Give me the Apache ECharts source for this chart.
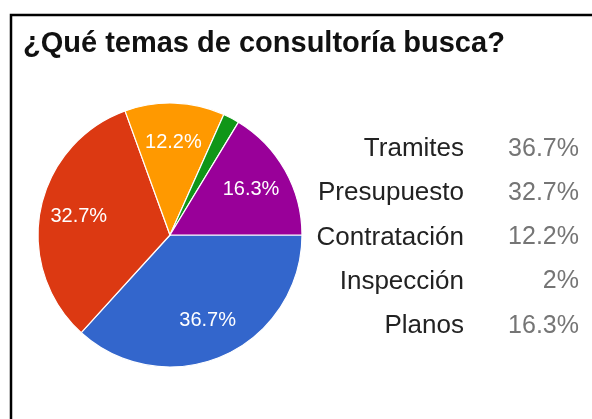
<!DOCTYPE html>
<html lang="es">
<head>
    <meta charset="UTF-8">
    <title>¿Qué temas de consultoría busca?</title>
    <style>
        html, body { margin: 0; padding: 0; background: #fff; }
        #main { width: 592px; height: 419px; }
    </style>
</head>
<body>
    <div id="main"></div>
    <script src="https://cdn.jsdelivr.net/npm/echarts@6/dist/echarts.min.js"></script>
    <script>
    // datos
    var temas = ['Tramites', 'Presupuesto', 'Contratación', 'Inspección', 'Planos'];
    var porcentajes = [36.7, 32.7, 12.2, 2, 16.3];
    var colores = ['#3366cc', '#dc3912', '#ff9900', '#109618', '#990099'];

    var datos = temas.map(function (t, i) {
        return { name: t, value: porcentajes[i], itemStyle: { color: colores[i] } };
    });

    var myChart = echarts.init(document.getElementById('main'), null, { renderer: 'canvas' });

    var option = {
        backgroundColor: '#fff',
        animation: false,
        title: {
            text: '¿Qué temas de consultoría busca?',
            left: 18,
            top: 24,
            textStyle: {
                fontFamily: 'Liberation Sans',
                fontWeight: 'bold',
                fontSize: 29,
                color: '#111'
            }
        },
        graphic: [{
            type: 'rect',
            shape: { x: 11, y: 15, width: 700, height: 600 },
            style: { fill: 'none', stroke: '#000', lineWidth: 2.5 },
            silent: true
        }],
        legend: {
            orient: 'vertical',
            left: 291,
            top: 131,
            icon: 'none',
            itemWidth: 0,
            itemHeight: 0,
            itemGap: 18.2,
            selectedMode: false,
            data: temas,
            formatter: function (name) {
                var i = temas.indexOf(name);
                return '{n|' + name + '}{v|' + porcentajes[i] + '%}';
            },
            textStyle: {
                fontFamily: 'Liberation Sans',
                rich: {
                    n: { width: 163, align: 'right', fontSize: 26, lineHeight: 30, color: '#222', fontFamily: 'Liberation Sans' },
                    v: { width: 115, align: 'right', fontSize: 25, lineHeight: 30, color: '#757575', fontFamily: 'Liberation Sans' }
                }
            }
        },
        series: [
            {
                type: 'pie',
                center: [170, 235],
                radius: [0, 132],
                startAngle: 0,
                clockwise: true,
                label: { show: false },
                labelLine: { show: false },
                itemStyle: { borderColor: '#fff', borderWidth: 1.2 },
                emphasis: { scale: false },
                data: datos
            },
            {
                // capa para las etiquetas de porcentaje
                type: 'pie',
                center: [170, 235],
                radius: [48, 132],
                startAngle: 0,
                clockwise: true,
                silent: true,
                legendHoverLink: false,
                itemStyle: { color: 'transparent', borderWidth: 0 },
                label: {
                    show: true,
                    position: 'inside',
                    color: '#fff',
                    fontSize: 20,
                    fontFamily: 'Liberation Sans',
                    formatter: function (p) {
                        return p.value < 5 ? '' : p.value + '%';
                    }
                },
                labelLine: { show: false },
                data: temas.map(function (t, i) {
                    return { name: t + ' ', value: porcentajes[i] };
                })
            }
        ]
    };

    myChart.setOption(option);
    window.addEventListener('resize', myChart.resize);
    </script>
</body>
</html>
